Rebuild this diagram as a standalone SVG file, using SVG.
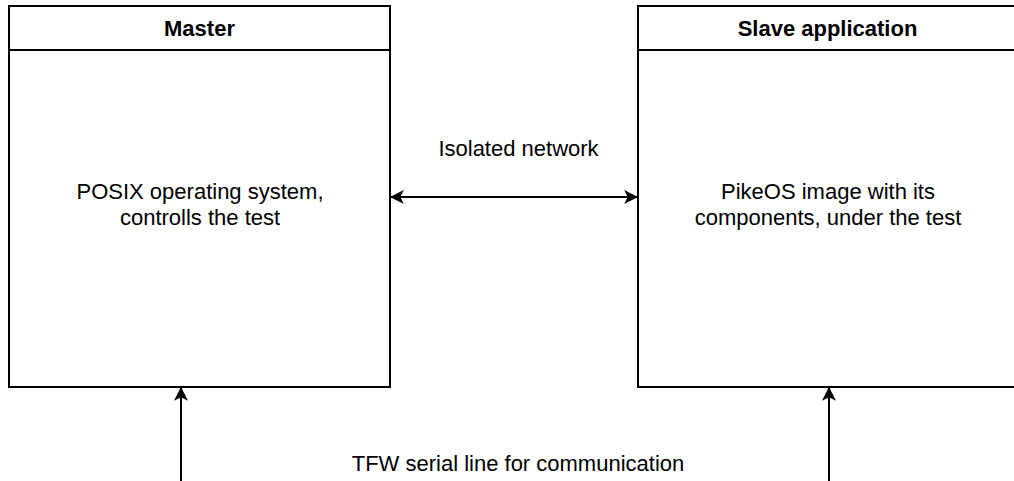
<svg xmlns="http://www.w3.org/2000/svg" width="1014" height="481" viewBox="0 0 1014 481">
<style>
.box{fill:#fff;stroke:#000;stroke-width:2}
.t{font-family:"Liberation Sans",Arial,sans-serif;font-size:22px;fill:#000;text-anchor:middle}
.b{font-weight:bold}
.c{stroke:#000;stroke-width:2;fill:none}
</style>
<defs>
<marker id="ah" viewBox="0 0 12 12" refX="11" refY="6" markerWidth="14" markerHeight="14" markerUnits="userSpaceOnUse" orient="auto-start-reverse">
<path d="M0,0 L12,6 L0,12 L3,6 Z" fill="#000"/>
</marker>
</defs>
<rect width="1014" height="481" fill="#fff"/>
<g id="master">
<rect class="box" x="9" y="6" width="381" height="381"/>
<line class="c" x1="9" y1="50" x2="390" y2="50"/>
<text class="t b" x="199.5" y="36">Master</text>
<text class="t" x="200" y="199">POSIX operating system,</text>
<text class="t" x="200" y="225">controlls the test</text>
</g>
<g id="slave">
<rect class="box" x="638" y="6" width="381" height="381"/>
<line class="c" x1="638" y1="50" x2="1019" y2="50"/>
<text class="t b" x="827.5" y="36">Slave application</text>
<text class="t" x="828" y="199">PikeOS image with its</text>
<text class="t" x="828" y="225">components, under the test</text>
</g>
<g id="connectors">
<line class="c" x1="391" y1="197" x2="637" y2="197" marker-start="url(#ah)" marker-end="url(#ah)"/>
<line class="c" x1="181" y1="481" x2="181" y2="388" marker-end="url(#ah)"/>
<line class="c" x1="829" y1="481" x2="829" y2="388" marker-end="url(#ah)"/>
</g>
<g id="labels">
<text class="t" x="518.5" y="156">Isolated network</text>
<text class="t" x="518" y="471">TFW serial line for communication</text>
</g>
</svg>
